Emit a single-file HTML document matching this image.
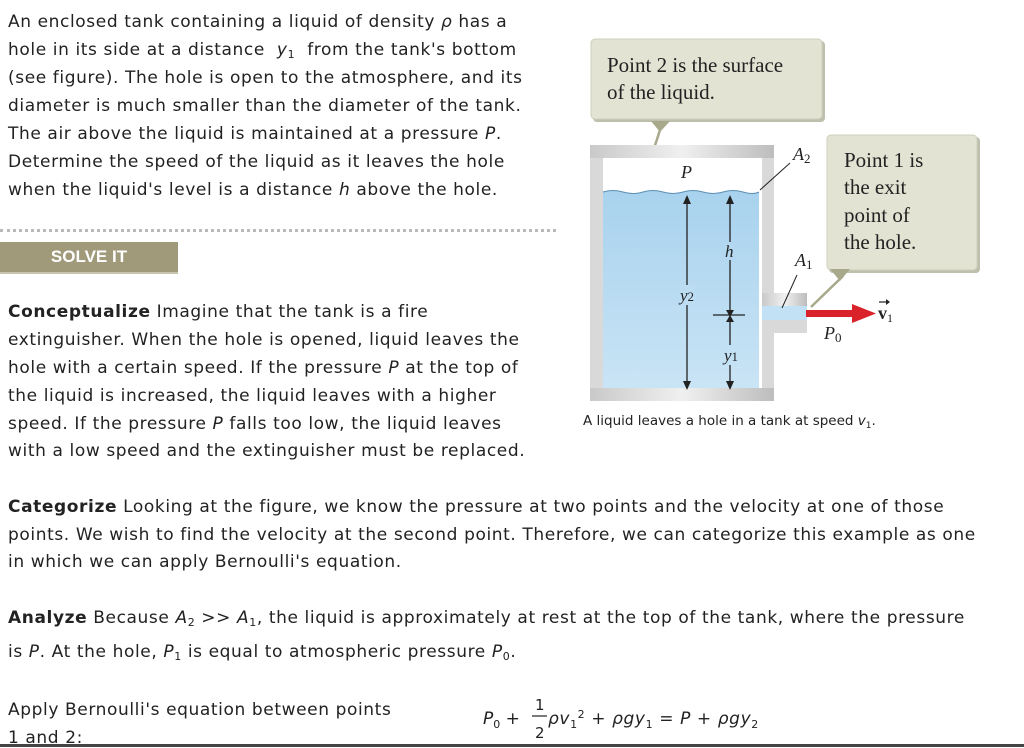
<!DOCTYPE html>
<html><head><meta charset="utf-8"><style>
body{margin:0;width:1024px;height:747px;background:#fff;position:relative;overflow:hidden;font-family:"DejaVu Sans","Liberation Sans",sans-serif;font-size:17px;letter-spacing:0.6px;color:#222}
.l{position:absolute;left:8px;white-space:nowrap;line-height:20px}
i{font-style:italic}
sub{font-size:11px;vertical-align:-3px;line-height:0}
sup{font-size:11px;line-height:0}
.solve{position:absolute;left:0;top:242px;width:178px;height:30px;background:#a09a7b;color:#fff;font:bold 17px "Liberation Sans",sans-serif;letter-spacing:0;text-align:center;line-height:29px;border-bottom:2px solid #c8c4b0}
.dots{position:absolute;left:0;top:229px;width:556px;border-top:3px dotted #b9b9b9}
</style></head><body>
<div class="l" style="top:12px">An enclosed tank containing a liquid of density <i>ρ</i> has a</div>
<div class="l" style="top:40px">hole in its side at a distance &nbsp;<i>y</i><sub>1</sub>&nbsp; from the tank's bottom</div>
<div class="l" style="top:68px">(see figure). The hole is open to the atmosphere, and its</div>
<div class="l" style="top:96px">diameter is much smaller than the diameter of the tank.</div>
<div class="l" style="top:124px">The air above the liquid is maintained at a pressure <i>P</i>.</div>
<div class="l" style="top:152px">Determine the speed of the liquid as it leaves the hole</div>
<div class="l" style="top:180px">when the liquid's level is a distance <i>h</i> above the hole.</div>
<div class="dots"></div>
<div class="solve">SOLVE IT</div>
<div class="l" style="top:302px"><b>Conceptualize</b> Imagine that the tank is a fire</div>
<div class="l" style="top:330px">extinguisher. When the hole is opened, liquid leaves the</div>
<div class="l" style="top:358px">hole with a certain speed. If the pressure <i>P</i> at the top of</div>
<div class="l" style="top:386px">the liquid is increased, the liquid leaves with a higher</div>
<div class="l" style="top:414px">speed. If the pressure <i>P</i> falls too low, the liquid leaves</div>
<div class="l" style="top:441px">with a low speed and the extinguisher must be replaced.</div>
<div class="l" style="top:497px"><b>Categorize</b> Looking at the figure, we know the pressure at two points and the velocity at one of those</div>
<div class="l" style="top:525px">points. We wish to find the velocity at the second point. Therefore, we can categorize this example as one</div>
<div class="l" style="top:552px">in which we can apply Bernoulli's equation.</div>
<div class="l" style="top:608px"><b>Analyze</b> Because <i>A</i><sub>2</sub> &gt;&gt; <i>A</i><sub>1</sub>, the liquid is approximately at rest at the top of the tank, where the pressure</div>
<div class="l" style="top:642px">is <i>P</i>. At the hole, <i>P</i><sub>1</sub> is equal to atmospheric pressure <i>P</i><sub>0</sub>.</div>
<div class="l" style="top:700px">Apply Bernoulli's equation between points</div>
<div class="l" style="top:728px">1 and 2:</div>
<div style="position:absolute;left:0;top:744px;width:1024px;height:3px;background:#444"></div>
<svg style="position:absolute;left:0;top:0;letter-spacing:0" width="1024" height="747" font-family="'Liberation Serif',serif">
<g font-family="'DejaVu Sans',sans-serif" font-size="17" fill="#222">
<text x="483" y="724"><tspan font-style="italic">P</tspan><tspan font-size="11" dy="4">0</tspan><tspan dy="-4"> +</tspan></text>
<text x="535" y="710" font-size="15">1</text><line x1="532" y1="716" x2="547" y2="716" stroke="#222" stroke-width="1.2"/><text x="535" y="738" font-size="15">2</text>
<text x="548" y="724" letter-spacing="0.6"><tspan font-style="italic">ρv</tspan><tspan font-size="11" dy="4">1</tspan><tspan font-size="11" dy="-10">2</tspan><tspan dy="6"> + </tspan><tspan font-style="italic">ρgy</tspan><tspan font-size="11" dy="4">1</tspan><tspan dy="-4"> = </tspan><tspan font-style="italic">P</tspan><tspan> + </tspan><tspan font-style="italic">ρgy</tspan><tspan font-size="11" dy="4">2</tspan></text>
</g>
<rect x="593" y="41" width="232" height="81" rx="4" fill="#bfbfae"/>
<rect x="591" y="39" width="231" height="80" rx="4" fill="#e3e3d4" stroke="#cfcfbd"/>
<polygon points="651,121 670,121 660,132" fill="#a8a88a"/>
<line x1="660" y1="130" x2="640" y2="192" stroke="#a8a88a" stroke-width="2.5"/>
<text x="607" y="72" font-size="21" fill="#222">Point 2 is the surface</text>
<text x="607" y="99" font-size="21" fill="#222">of the liquid.</text>
<defs><linearGradient id="w" x1="0" x2="1"><stop offset="0" stop-color="#c9c9c9"/><stop offset=".5" stop-color="#f0f0f0"/><stop offset="1" stop-color="#bdbdbd"/></linearGradient>
<linearGradient id="liq" x1="0" y1="0" x2="0" y2="1"><stop offset="0" stop-color="#a8d2ee"/><stop offset="1" stop-color="#c9e4f5"/></linearGradient></defs>
<rect x="590" y="145" width="184" height="256" fill="#d9d9d9"/>
<rect x="590" y="145" width="184" height="13" fill="url(#w)"/>
<rect x="590" y="388" width="184" height="13" fill="url(#w)"/>
<rect x="603" y="158" width="159" height="230" fill="#fff"/>
<path d="M603,192 q10,-3 20,0 t20,0 t20,0 t20,0 t20,0 t20,0 t20,0 t16,0 V388 H603Z" fill="url(#liq)"/>
<path d="M603,192 q10,-3 20,0 t20,0 t20,0 t20,0 t20,0 t20,0 t20,0 t16,0" fill="none" stroke="#5a8fb5" stroke-width="1"/>
<rect x="762" y="293" width="45" height="40" fill="#d9d9d9"/>
<rect x="762" y="293" width="45" height="13" fill="url(#w)"/>
<rect x="762" y="306" width="45" height="14" fill="#c3e1f4"/>
<g stroke="#222" stroke-width="1.3" fill="#222">
<line x1="687" y1="200" x2="687" y2="385"/>
<polygon points="683,204 691,204 687,195" stroke="none"/><polygon points="683,381 691,381 687,390" stroke="none"/>
<line x1="730" y1="200" x2="730" y2="385"/>
<polygon points="726,204 734,204 730,195" stroke="none"/><polygon points="726,310 734,310 730,317" stroke="none"/>
<polygon points="726,322 734,322 730,315" stroke="none"/><polygon points="726,381 734,381 730,390" stroke="none"/>
<line x1="713" y1="315" x2="745" y2="315"/>
<line x1="760" y1="190" x2="790" y2="163" stroke-width="1"/>
<line x1="782" y1="308" x2="797" y2="275" stroke-width="1"/>
</g>
<rect x="680" y="285" width="14" height="20" fill="#bcdcf2"/>
<rect x="724" y="242" width="12" height="18" fill="#b3d7f0"/>
<rect x="724" y="345" width="12" height="20" fill="#c3e1f4"/>
<g font-size="18" font-style="italic" fill="#222">
<text x="681" y="178">P</text>
<text x="680" y="301" font-size="17">y<tspan font-style="normal" font-size="13">2</tspan></text>
<text x="725" y="257" font-size="17">h</text>
<text x="724" y="361" font-size="17">y<tspan font-style="normal" font-size="13">1</tspan></text>
<text x="793" y="160">A<tspan font-style="normal" font-size="13" dy="3">2</tspan></text>
<text x="795" y="266">A<tspan font-style="normal" font-size="13" dy="3">1</tspan></text>
<text x="824" y="339">P<tspan font-style="normal" font-size="13" dy="3">0</tspan></text>
<text x="878" y="319" font-weight="bold" font-style="normal">v<tspan font-size="12" dy="3" font-weight="normal">1</tspan></text>
</g>
<line x1="879" y1="302" x2="889" y2="302" stroke="#222" stroke-width="1.2"/>
<polygon points="886,299 890,302 886,305" fill="#222"/>
<rect x="806" y="310" width="50" height="7" fill="#d9222a"/>
<polygon points="852,304 876,313.5 852,323" fill="#d9222a"/>
<rect x="829" y="137" width="151" height="136" rx="4" fill="#bfbfae"/>
<rect x="827" y="135" width="150" height="135" rx="4" fill="#e3e3d4" stroke="#cfcfbd"/>
<polygon points="830,269 850,269 840,281" fill="#a8a88a"/>
<line x1="843" y1="276" x2="811" y2="307" stroke="#a8a88a" stroke-width="2.5"/>
<g font-size="21" fill="#222">
<text x="844" y="167">Point 1 is</text>
<text x="844" y="194">the exit</text>
<text x="844" y="222">point of</text>
<text x="844" y="249">the hole.</text>
</g>
<text x="583" y="425" font-family="'DejaVu Sans',sans-serif" font-size="13.5" fill="#222">A liquid leaves a hole in a tank at speed <tspan font-style="italic">v</tspan><tspan font-size="9" dy="3">1</tspan><tspan dy="-3">.</tspan></text>
</svg>
</body></html>
